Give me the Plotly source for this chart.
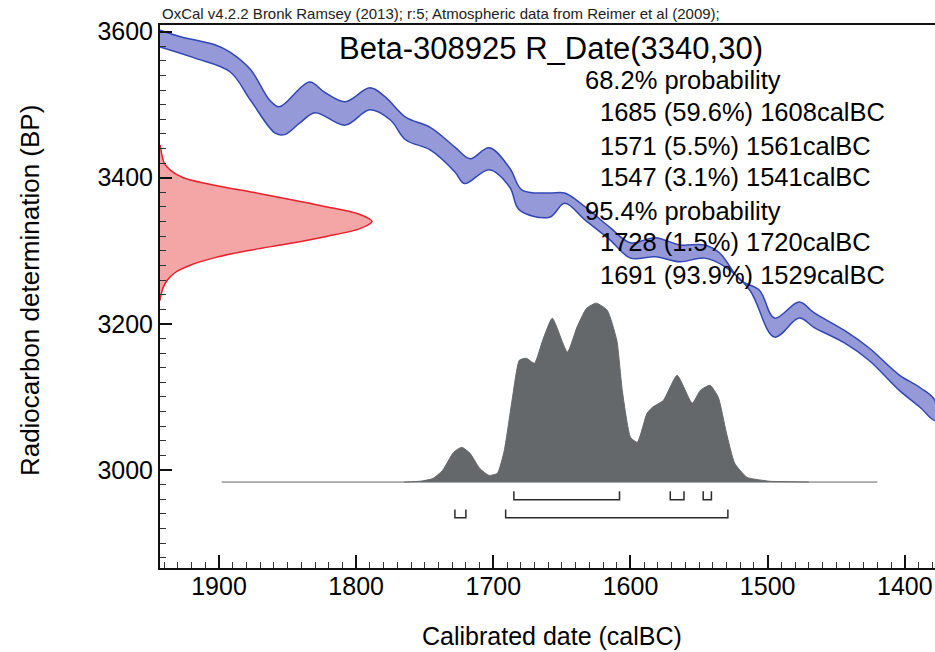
import plotly.graph_objects as go

# calibration curve band (IntCal09)
upper_year = [1943, 1928, 1903, 1892, 1877, 1863, 1856, 1834, 1823, 1808, 1790, 1779, 1764, 1746,
              1728, 1717, 1703, 1688, 1679, 1659, 1648, 1633, 1615, 1600, 1582, 1564, 1546, 1535,
              1520, 1506, 1495, 1477, 1466, 1444, 1426, 1404, 1389, 1378]
upper_bp = [3602, 3593, 3582, 3572, 3548, 3506, 3497, 3531, 3517, 3504, 3523, 3511, 3483, 3469,
            3442, 3426, 3441, 3413, 3383, 3379, 3379, 3360, 3332, 3311, 3318, 3308, 3308, 3297,
            3260, 3246, 3208, 3230, 3215, 3191, 3167, 3130, 3113, 3095]
lower_year = [1943, 1918, 1892, 1877, 1859, 1852, 1841, 1830, 1808, 1790, 1775, 1764, 1746, 1728,
              1721, 1703, 1688, 1681, 1659, 1648, 1633, 1615, 1600, 1582, 1564, 1546, 1531, 1513,
              1495, 1477, 1466, 1444, 1426, 1404, 1389, 1378]
lower_bp = [3579, 3564, 3545, 3506, 3461, 3459, 3475, 3489, 3472, 3493, 3479, 3452, 3438, 3408,
            3392, 3411, 3387, 3356, 3346, 3365, 3342, 3315, 3290, 3292, 3285, 3290, 3278, 3246,
            3182, 3208, 3195, 3174, 3150, 3109, 3086, 3068]

# radiocarbon date 3340 +/- 30 (relative probability)
rdate_bp = [3445, 3430, 3420, 3410, 3400, 3390, 3380, 3370, 3360, 3350, 3340, 3330, 3320, 3310,
            3300, 3290, 3280, 3270, 3260, 3250, 3240, 3232]
rdate_prob = [0.0, 0.01, 0.02, 0.05, 0.11, 0.25, 0.44, 0.62, 0.79, 0.94, 1.0, 0.94, 0.79, 0.61,
              0.41, 0.25, 0.14, 0.07, 0.035, 0.015, 0.005, 0.0]

# calibrated distribution (relative probability)
cal_year = [1765, 1753, 1744, 1737, 1729, 1723, 1717, 1710, 1703, 1697, 1692, 1686, 1681, 1676,
            1670, 1664, 1657, 1646, 1639, 1632, 1625, 1617, 1610, 1606, 1600, 1595, 1588, 1584,
            1576, 1566, 1555, 1549, 1542, 1536, 1530, 1524, 1515, 1504, 1498, 1485, 1470]
cal_prob = [0.0, 0.005, 0.02, 0.065, 0.166, 0.194, 0.161, 0.077, 0.037, 0.049, 0.177, 0.474, 0.681,
            0.692, 0.664, 0.793, 0.916, 0.726, 0.866, 0.972, 1.0, 0.961, 0.793, 0.513, 0.25, 0.222,
            0.384, 0.418, 0.457, 0.597, 0.441, 0.513, 0.541, 0.474, 0.273, 0.105, 0.026, 0.01,
            0.004, 0.002, 0.0]

range68 = [(1685, 1608), (1571, 1561), (1547, 1541)]
range95 = [(1728, 1720), (1691, 1529)]

prob_lines = ["68.2% probability",
              "1685 (59.6%) 1608calBC",
              "1571 (5.5%) 1561calBC",
              "1547 (3.1%) 1541calBC",
              "95.4% probability",
              "1728 (1.5%) 1720calBC",
              "1691 (93.9%) 1529calBC"]

X0, X1 = 1943, 1378
Y0, Y1 = 2866, 3609
FONT = "Liberation Sans, Arial, sans-serif"

fig = go.Figure()

# blue band
fig.add_trace(go.Scatter(x=upper_year + lower_year[::-1], y=upper_bp + lower_bp[::-1],
                         fill='toself', fillcolor='rgba(138,142,212,0.9)', mode='lines',
                         line=dict(color='#3246b4', width=1.5, shape='spline', smoothing=1.0),
                         hoverinfo='skip'))

# red date on the y axis
red_w = 154.6
fig.add_trace(go.Scatter(x=[X0 - p * red_w for p in rdate_prob], y=rdate_bp,
                         fill='toself', fillcolor='rgba(242,150,150,0.85)', mode='lines',
                         line=dict(color='#e8202a', width=1.5, shape='spline', smoothing=0.8),
                         hoverinfo='skip'))

# grey calibrated distribution
base = 2983.6
height = 244.8
fig.add_trace(go.Scatter(x=[1898, 1420], y=[base, base], mode='lines',
                         line=dict(color='#666666', width=1), hoverinfo='skip'))
fig.add_trace(go.Scatter(x=cal_year, y=[base + p * height for p in cal_prob],
                         fill='toself', fillcolor='#65686a', mode='lines',
                         line=dict(color='#65686a', width=1, shape='spline', smoothing=0.5),
                         hoverinfo='skip'))

# range brackets
def brackets(ranges, line_y, top_y):
    xs, ys = [], []
    for a, b in ranges:
        xs += [a, a, b, b, None]
        ys += [top_y, line_y, line_y, top_y, None]
    return xs, ys

bx, by = brackets(range68, 2959.5, 2970.9)
fig.add_trace(go.Scatter(x=bx, y=by, mode='lines', line=dict(color='#2b2b2b', width=1.5),
                         hoverinfo='skip'))
bx, by = brackets(range95, 2934.9, 2946.0)
fig.add_trace(go.Scatter(x=bx, y=by, mode='lines', line=dict(color='#2b2b2b', width=1.5),
                         hoverinfo='skip'))

ann = []
ann.append(dict(text="OxCal v4.2.2 Bronk Ramsey (2013); r:5; Atmospheric data from Reimer et al (2009);",
                x=0, y=1, xref='paper', yref='paper', xanchor='left', yanchor='bottom', yshift=1,
                showarrow=False, font=dict(size=15, color='#222')))
ann.append(dict(text="Beta-308925 R_Date(3340,30)", x=0.5045, y=0.9576, xref='paper', yref='paper',
                xanchor='center', yanchor='middle', showarrow=False, font=dict(size=31, color='black')))
line_y = [0.8987, 0.8398, 0.7772, 0.7201, 0.6575, 0.6004, 0.5396]
for i, t in enumerate(prob_lines):
    indent = 0.5458 if 'probability' in t else 0.5655
    ann.append(dict(text=t, x=indent, y=line_y[i], xref='paper', yref='paper', xanchor='left',
                    yanchor='middle', showarrow=False, font=dict(size=25.5, color='black')))
ann.append(dict(text="Calibrated date (calBC)", x=0.5058, y=-0.1252, xref='paper', yref='paper',
                xanchor='center', yanchor='middle', showarrow=False, font=dict(size=25, color='black')))
ann.append(dict(text="Radiocarbon determination (BP)", x=-0.1677, y=0.51, xref='paper', yref='paper',
                xanchor='center', yanchor='middle', textangle=-90, showarrow=False,
                font=dict(size=26, color='black')))

fig.update_layout(
    width=935, height=652, autosize=False,
    margin=dict(l=160, r=0, t=25, b=84),
    paper_bgcolor='white', plot_bgcolor='white',
    showlegend=False,
    font=dict(family=FONT, color='black'),
    annotations=ann,
)
fig.update_xaxes(range=[X0, X1], showgrid=False, zeroline=False, showline=True, mirror=True,
                 linecolor='#111', linewidth=2, ticks='inside', ticklen=13, tickwidth=1.5,
                 tickcolor='#111', dtick=100, tick0=1400, tickfont=dict(size=25),
                 ticklabelstandoff=-5,
                 minor=dict(ticks='inside', ticklen=6, dtick=10, tickcolor='#333', tickwidth=1))
fig.update_yaxes(range=[Y0, Y1], showgrid=False, zeroline=False, showline=True, mirror=False,
                 linecolor='#111', linewidth=2, ticks='inside', ticklen=12, tickwidth=1.5,
                 tickcolor='#111', dtick=200, tick0=3000, tickfont=dict(size=25),
                 ticklabelstandoff=0,
                 minor=dict(ticks='inside', ticklen=6, dtick=20, tickcolor='#333', tickwidth=1))

# page body has a default 8px margin; remove it so the figure fills the window
fig.write_html("out.html", config={'displayModeBar': False},
               post_script="document.body.style.margin='0';document.body.style.overflow='hidden';")
